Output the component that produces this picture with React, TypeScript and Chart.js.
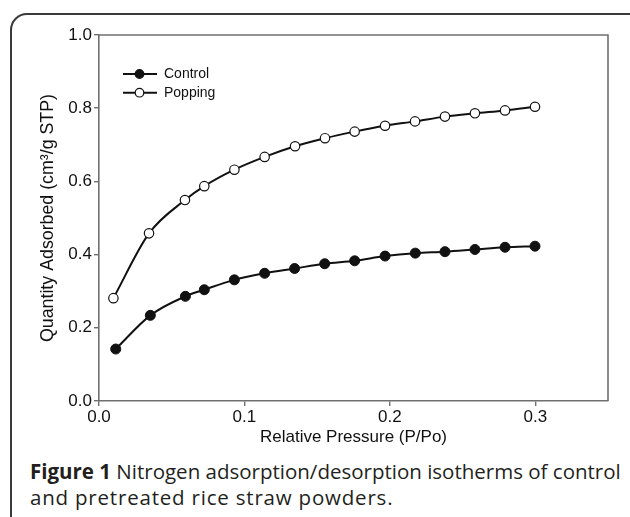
import React, { useEffect, useRef } from "react";
import { Chart, registerables } from "chart.js";

Chart.register(...registerables);

// Relative pressure (P/Po) and quantity adsorbed (cm³/g STP)
const pressureControl = [0.0115, 0.0353, 0.0594, 0.0724, 0.0931, 0.1139, 0.1345, 0.1552, 0.1758, 0.1967, 0.2175, 0.2379, 0.2585, 0.2792, 0.2998];
const quantityControl = [0.142, 0.234, 0.286, 0.304, 0.331, 0.349, 0.362, 0.375, 0.383, 0.396, 0.404, 0.408, 0.414, 0.42, 0.423];
const pressurePopping = [0.0099, 0.0344, 0.0591, 0.0724, 0.0931, 0.1139, 0.1348, 0.1554, 0.1758, 0.1967, 0.2173, 0.2379, 0.2585, 0.2792, 0.2998];
const quantityPopping = [0.281, 0.458, 0.549, 0.587, 0.632, 0.667, 0.696, 0.718, 0.736, 0.752, 0.764, 0.777, 0.786, 0.794, 0.804];

const seriesLabels = ["Control", "Popping"];
const xTickValues = [0, 0.1, 0.2, 0.3];
const yTickValues = [0, 0.2, 0.4, 0.6, 0.8, 1.0];

const xTitle = "Relative Pressure (P/Po)";
const yTitle = "Quantity Adsorbed (cm\u00B3/g STP)";

const AXIS_COLOR = "#6f6f6f";
const FONT = "Arial, 'Liberation Sans', Helvetica, sans-serif";

const boxAndLegend = {
  id: "boxAndLegend",
  afterDraw(chart: any) {
    const { ctx, chartArea } = chart;
    ctx.save();
    ctx.strokeStyle = AXIS_COLOR;
    ctx.lineWidth = 1.6;
    ctx.beginPath();
    ctx.moveTo(chartArea.left, chartArea.top);
    ctx.lineTo(chartArea.right, chartArea.top);
    ctx.lineTo(chartArea.right, chartArea.bottom);
    ctx.stroke();

    // legend
    const lx = chartArea.left + 24;
    const ly = chartArea.top + 39;
    const gap = 18.7;
    chart.data.datasets.forEach((ds: any, i: number) => {
      const y = ly + i * gap;
      ctx.strokeStyle = "#111";
      ctx.lineWidth = 2;
      ctx.beginPath();
      ctx.moveTo(lx, y);
      ctx.lineTo(lx + 34, y);
      ctx.stroke();
      ctx.beginPath();
      ctx.arc(lx + 16.5, y, 4.3, 0, Math.PI * 2);
      ctx.fillStyle = ds.pointBackgroundColor;
      ctx.fill();
      ctx.lineWidth = 1.2;
      ctx.strokeStyle = "#111";
      ctx.stroke();
      ctx.fillStyle = "#111";
      ctx.font = `14px ${FONT}`;
      ctx.textBaseline = "middle";
      ctx.textAlign = "left";
      ctx.fillText(ds.label, lx + 41, y + 0.5);
    });
    ctx.restore();
  },
};

export default function App() {
  const canvasRef = useRef<HTMLCanvasElement | null>(null);

  useEffect(() => {
    const canvas = canvasRef.current;
    if (!canvas) return;
    const chart = new Chart(canvas, {
      type: "line",
      data: {
        datasets: [
          {
            label: seriesLabels[0],
            data: pressureControl.map((x, i) => ({ x, y: quantityControl[i] })),
            borderColor: "#111",
            borderWidth: 2,
            pointRadius: 5,
            pointBackgroundColor: "#111",
            pointBorderColor: "#111",
            pointBorderWidth: 1,
            cubicInterpolationMode: "monotone",
            fill: false,
          },
          {
            label: seriesLabels[1],
            data: pressurePopping.map((x, i) => ({ x, y: quantityPopping[i] })),
            borderColor: "#111",
            borderWidth: 2,
            pointRadius: 4.7,
            pointBackgroundColor: "#ffffff",
            pointBorderColor: "#111",
            pointBorderWidth: 1.2,
            cubicInterpolationMode: "monotone",
            fill: false,
          },
        ],
      },
      options: {
        animation: false,
        responsive: false,
        devicePixelRatio: 1,
        layout: { padding: { left: 33, top: 35, right: 22, bottom: 0 } },
        plugins: {
          legend: { display: false },
          tooltip: { enabled: false },
        },
        scales: {
          x: {
            type: "linear",
            min: 0,
            max: 0.35,
            afterBuildTicks: (scale: any) => {
              scale.ticks = xTickValues.map((v) => ({ value: v }));
            },
            afterFit: (scale: any) => {
              scale.height = 51;
              scale.paddingLeft = 0;
              scale.paddingRight = 0;
            },
            grid: { display: true, drawOnChartArea: false, drawTicks: true, tickLength: 5, color: AXIS_COLOR, lineWidth: 1.4 },
            border: { display: true, color: AXIS_COLOR, width: 1.6 },
            ticks: {
              padding: 1,
              color: "#111",
              font: { family: FONT, size: 17 },
              maxRotation: 0,
              callback: (v: any) => Number(v).toFixed(1),
            },
            title: {
              display: true,
              text: xTitle,
              color: "#111",
              font: { family: FONT, size: 17 },
              padding: { top: 2, bottom: 4 },
            },
          },
          y: {
            type: "linear",
            min: 0,
            max: 1,
            afterBuildTicks: (scale: any) => {
              scale.ticks = yTickValues.map((v) => ({ value: v }));
            },
            afterFit: (scale: any) => {
              scale.width = 66;
              scale.paddingTop = 0;
              scale.paddingBottom = 0;
            },
            grid: { display: true, drawOnChartArea: false, drawTicks: true, tickLength: 5, color: AXIS_COLOR, lineWidth: 1.4 },
            border: { display: true, color: AXIS_COLOR, width: 1.6 },
            ticks: {
              padding: 2,
              color: "#111",
              font: { family: FONT, size: 17 },
              callback: (v: any) => Number(v).toFixed(1),
            },
            title: {
              display: true,
              text: yTitle,
              color: "#111",
              font: { family: FONT, size: 17.8 },
              padding: { top: 4, bottom: 4 },
            },
          },
        },
      },
      plugins: [boxAndLegend],
    });
    return () => chart.destroy();
  }, []);

  return (
    <div style={{ position: "absolute", left: 0, top: 0, width: 630, height: 517, overflow: "hidden", background: "#fff" }}>
      <div
        style={{
          position: "absolute",
          left: 10,
          top: 13,
          width: 640,
          height: 560,
          border: "2px solid #3a3a3a",
          borderRadius: 17,
          boxSizing: "border-box",
        }}
      />
      <canvas ref={canvasRef} width={630} height={452} style={{ position: "absolute", left: 0, top: 0, width: 630, height: 452 }} />
      <div
        style={{
          position: "absolute",
          left: 30,
          top: 458,
          fontFamily: "'Open Sans', 'Noto Sans', sans-serif",
          fontSize: 20.5,
          lineHeight: "26px",
          color: "#231f20",
          whiteSpace: "nowrap",
        }}
      >
        <div>
          <b>Figure 1</b> Nitrogen adsorption/desorption isotherms of control
        </div>
        <div style={{ letterSpacing: "0.8px" }}>and pretreated rice straw powders.</div>
      </div>
    </div>
  );
}
